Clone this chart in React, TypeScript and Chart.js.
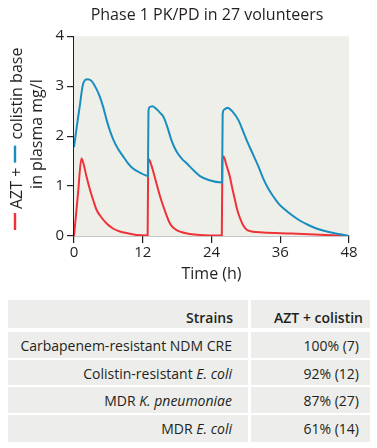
import React, { useEffect, useRef } from "react";
import { Chart, registerables } from "chart.js";

Chart.register(...registerables);

const FONT = "'Open Sans', 'Noto Sans', sans-serif";
const TEXT = "#231f20";
const RED = "#ee3238";
const BLUE = "#1a8dbf";
const PLOT_BG = "#efefea";
const TABLE_BG = "#ededeb";

const TITLE = "Phase 1 PK/PD in 27 volunteers";
const X_TITLE = "Time (h)";
const Y_TITLE_AZT = "AZT +";
const Y_TITLE_COL = "colistin base";
const Y_TITLE_LINE2 = "in plasma mg/l";
const X_TICKS = [0, 12, 24, 36, 48];
const Y_TICKS = [0, 1, 2, 3, 4];

// AZT (red) plasma concentration, mg/l
const AZT_TIME = [
  0, 0.7, 1.3, 1.6, 2.2, 2.8, 3.4, 3.95, 4.8, 5.7, 6.8, 8.0, 9.5, 10.9, 12.85,
  12.95, 13.1, 13.5, 14.4, 15.0, 15.6, 16.2, 16.75, 17.3, 17.9, 19.0, 20.2, 22.0, 25.8,
  25.9, 26.1, 26.6, 27.2, 27.6, 28.1, 28.5, 29.0, 29.5, 30.1, 31.0, 33.0, 38.0, 44.0, 48.0,
];
const AZT_CONC = [
  0, 0.85, 1.55, 1.47, 1.18, 0.92, 0.7, 0.52, 0.37, 0.25, 0.15, 0.09, 0.05, 0.02, 0.01,
  1.45, 1.53, 1.42, 1.05, 0.8, 0.59, 0.4, 0.25, 0.17, 0.12, 0.07, 0.04, 0.02, 0.01,
  1.5, 1.59, 1.42, 1.19, 0.97, 0.72, 0.52, 0.35, 0.22, 0.13, 0.09, 0.07, 0.05, 0.02, 0.0,
];

// Colistin base (blue) plasma concentration, mg/l
const COL_TIME = [
  0, 0.5, 1.0, 1.5, 1.9, 2.4, 3.0, 3.8, 4.5, 5.1, 5.7, 6.3, 6.9, 7.7, 8.6, 9.4, 10.3, 11.5, 12.9,
  13.0, 13.2, 13.7, 14.5, 15.0, 15.6, 16.3, 17.0, 17.9, 18.8, 19.7, 21.0, 22.0, 23.5, 25.85,
  25.95, 26.2, 26.8, 27.6, 28.7, 29.5, 30.4, 31.3, 32.2, 33.0, 33.9, 34.8, 35.7, 36.8, 38.0,
  39.4, 40.9, 42.3, 43.8, 45.3, 46.7, 48.0,
];
const COL_CONC = [
  1.78, 2.2, 2.6, 3.0, 3.12, 3.14, 3.11, 2.97, 2.79, 2.58, 2.32, 2.1, 1.92, 1.74, 1.59, 1.46, 1.35, 1.27, 1.2,
  2.5, 2.58, 2.6, 2.53, 2.47, 2.39, 2.18, 1.92, 1.69, 1.55, 1.45, 1.3, 1.2, 1.12, 1.07,
  2.45, 2.53, 2.57, 2.5, 2.32, 2.1, 1.85, 1.62, 1.39, 1.16, 0.95, 0.79, 0.65, 0.53, 0.42,
  0.31, 0.22, 0.15, 0.1, 0.06, 0.03, 0.0,
];

// Table
const TABLE_HEAD = ["Strains", "AZT + colistin"];
const STRAIN_PLAIN = ["Carbapenem-resistant NDM CRE", "Colistin-resistant ", "MDR ", "MDR "];
const STRAIN_ITALIC = ["", "E. coli", "K. pneumoniae", "E. coli"];
const ACTIVITY = ["100% (7)", "92% (12)", "87% (27)", "61% (14)"];

const plotBgPlugin = {
  id: "plotBg",
  beforeDatasetsDraw(chart: any) {
    const { ctx, chartArea } = chart;
    ctx.save();
    ctx.fillStyle = PLOT_BG;
    ctx.fillRect(chartArea.left, chartArea.top, chartArea.right - chartArea.left, chartArea.bottom - chartArea.top);
    ctx.restore();
  },
};

const yTitlePlugin = {
  id: "yTitle",
  afterDraw(chart: any) {
    const { ctx, chartArea } = chart;
    const size = 16;
    ctx.save();
    ctx.font = `${size}px ${FONT}`;
    ctx.textBaseline = "alphabetic";
    ctx.textAlign = "left";
    // line 1, read bottom to top, starting just above the x axis
    ctx.save();
    ctx.translate(21.5, chartArea.bottom - 6);
    ctx.rotate(-Math.PI / 2);
    const dash = 17;
    const dashY = -6.5;
    let x = 0;
    ctx.fillStyle = RED;
    ctx.fillRect(x, dashY - 1.2, dash, 2.4);
    x += dash + 4;
    ctx.fillStyle = TEXT;
    ctx.fillText(Y_TITLE_AZT, x, 0);
    x += ctx.measureText(Y_TITLE_AZT).width + 5;
    ctx.fillStyle = BLUE;
    ctx.fillRect(x, dashY - 1.2, dash, 2.4);
    x += dash + 6;
    ctx.fillStyle = TEXT;
    ctx.fillText(Y_TITLE_COL, x, 0);
    ctx.restore();
    // line 2, centred on the plot
    ctx.save();
    ctx.translate(41.5, (chartArea.top + chartArea.bottom) / 2 - 2);
    ctx.rotate(-Math.PI / 2);
    ctx.textAlign = "center";
    ctx.fillStyle = TEXT;
    ctx.fillText(Y_TITLE_LINE2, 0, 0);
    ctx.restore();
    ctx.restore();
  },
};

function toPoints(t: number[], v: number[]) {
  return t.map((x, i) => ({ x, y: v[i] }));
}

function PKChart() {
  const ref = useRef<HTMLCanvasElement | null>(null);
  useEffect(() => {
    if (!ref.current) return;
    const chart = new Chart(ref.current, {
      type: "line",
      data: {
        datasets: [
          {
            label: "Colistin base",
            data: toPoints(COL_TIME, COL_CONC),
            borderColor: BLUE,
            borderWidth: 2,
            pointRadius: 0,
            cubicInterpolationMode: "monotone",
            fill: false,
            yAxisID: "y",
          },
          {
            label: "AZT",
            data: toPoints(AZT_TIME, AZT_CONC),
            borderColor: RED,
            borderWidth: 2,
            pointRadius: 0,
            cubicInterpolationMode: "monotone",
            fill: false,
            yAxisID: "y",
          },
        ],
      },
      options: {
        animation: false,
        responsive: false,
        maintainAspectRatio: false,
        layout: { padding: { left: 37, right: 0, top: 0, bottom: 0 } },
        plugins: {
          legend: { display: false },
          tooltip: { enabled: false },
          title: {
            display: true,
            text: TITLE,
            color: TEXT,
            font: { family: FONT, size: 16, weight: "normal" },
            padding: { top: 6, bottom: 11 },
          },
        },
        scales: {
          x: {
            type: "linear",
            min: 0,
            max: 48,
            afterBuildTicks: (s: any) => {
              s.ticks = X_TICKS.map((v) => ({ value: v }));
            },
            afterFit: (s: any) => {
              s.height = 54;
            },
            grid: { drawOnChartArea: false, drawTicks: true, tickLength: 7, color: TEXT, lineWidth: 1.2 },
            border: { display: true, color: TEXT, width: 1.2 },
            ticks: { color: TEXT, font: { family: FONT, size: 15 }, padding: 1, maxRotation: 0 },
            title: {
              display: true,
              text: X_TITLE,
              color: TEXT,
              font: { family: FONT, size: 16 },
              padding: { top: 0, bottom: 6 },
            },
          },
          y: {
            type: "linear",
            position: "left",
            min: 0,
            max: 4,
            afterBuildTicks: (s: any) => {
              s.ticks = Y_TICKS.map((v) => ({ value: v }));
            },
            afterFit: (s: any) => {
              s.width = 37;
            },
            grid: { drawOnChartArea: false, drawTicks: true, tickLength: 7, color: TEXT, lineWidth: 1.2 },
            border: { display: true, color: TEXT, width: 1.2 },
            ticks: { color: TEXT, font: { family: FONT, size: 15 }, padding: 3 },
          },
          yRight: {
            type: "linear",
            position: "right",
            display: true,
            grid: { display: false },
            border: { display: false },
            ticks: { display: false },
            afterFit: (s: any) => {
              s.width = 28;
            },
          },
        },
      } as any,
      plugins: [plotBgPlugin, yTitlePlugin],
    });
    return () => chart.destroy();
  }, []);
  return <canvas ref={ref} width={377} height={290} style={{ display: "block", width: 377, height: 290 }} />;
}

const cellBase: React.CSSProperties = {
  background: TABLE_BG,
  boxSizing: "border-box",
  textAlign: "right",
  whiteSpace: "nowrap",
  fontFamily: FONT,
  color: TEXT,
  fontSize: 14,
  lineHeight: "18px",
};

const ROW_HEIGHTS = [25.5, 25.5, 25.5, 27.5];

function StrainTable() {
  return (
    <div style={{ position: "absolute", left: 8, top: 300, width: 362 }}>
      <div style={{ display: "flex", gap: 3, height: 27.5 }}>
        <div style={{ ...cellBase, width: 240, fontWeight: 600, paddingRight: 15, paddingTop: 8.5 }}>
          {TABLE_HEAD[0]}
        </div>
        <div style={{ ...cellBase, width: 119, fontWeight: 600, paddingRight: 7, paddingTop: 8.5 }}>
          {TABLE_HEAD[1]}
        </div>
      </div>
      {STRAIN_PLAIN.map((s, i) => (
        <div key={i} style={{ display: "flex", gap: 3, height: ROW_HEIGHTS[i], marginTop: i === 0 ? 4.5 : 2 }}>
          <div style={{ ...cellBase, width: 240, paddingRight: 16, paddingTop: 5 }}>
            {s}
            {STRAIN_ITALIC[i] ? <i>{STRAIN_ITALIC[i]}</i> : null}
          </div>
          <div style={{ ...cellBase, width: 119, paddingRight: 11, paddingTop: 5 }}>
            {ACTIVITY[i]}
          </div>
        </div>
      ))}
    </div>
  );
}

export default function App() {
  return (
    <div style={{ position: "absolute", left: 0, top: 0, width: 377, height: 448, background: "#fff" }}>
      <PKChart />
      <StrainTable />
    </div>
  );
}
